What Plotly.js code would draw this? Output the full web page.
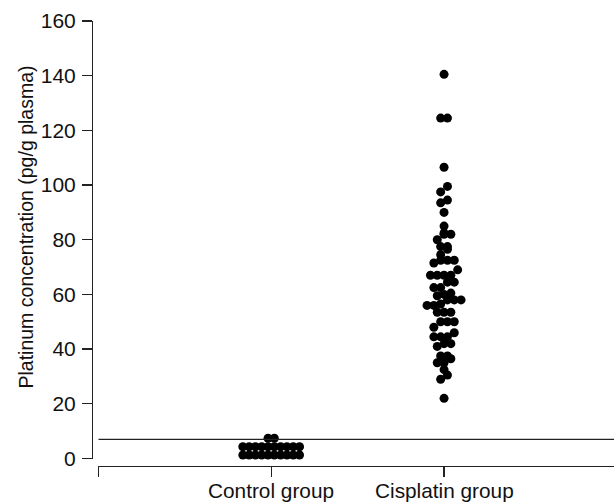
<!DOCTYPE html>
<html>
<head>
<meta charset="utf-8">
<script src="https://cdn.plot.ly/plotly-3.0.1.min.js"></script>
<style>html,body{margin:0;padding:0;background:#fff;}#chart{width:614px;height:502px;}</style>
</head>
<body>
<div id="chart"></div>
<script>
// ---- data ----
const categories = ['Control group', 'Cisplatin group'];
const controlValues = [
  1.3, 1.3, 1.3, 1.3, 1.3, 1.3, 1.3, 1.3, 1.3, 1.3,
  4.3, 4.3, 4.3, 4.3, 4.3, 4.3, 4.3, 4.3, 4.3, 4.3,
  7.4, 7.4
];
const cisplatinValues = [
  140.5, 124.5, 124.5, 106.5, 99.5, 97.5, 94.5, 93.5, 90, 85,
  82.5, 82, 82, 80, 77.5, 77.5, 76.5, 74.5, 72.5, 72.5,
  72.5, 71.5, 69, 67, 67, 67, 67, 64.5, 64.5, 62.5,
  62.5, 60.5, 60, 59.5, 58, 58, 58, 56.5, 56, 56,
  53.5, 53.5, 53.5, 50, 50, 50, 48, 46, 44.5, 44.5,
  44.5, 42, 42, 41, 37.5, 37.5, 36.5, 35, 35, 32.5,
  30.5, 29, 22
];
const thresholdValue = 7;
const yTickVals = [0, 20, 40, 60, 80, 100, 120, 140, 160];
const yTickText = ['0', '20', '40', '60', '80', '100', '120', '140', '160'];
const yTitle = 'Platinum concentration (pg/g plasma)';

// ---- layout geometry ----
const W = 614, H = 502;
const M = {l: 92, r: 0, t: 21, b: 36};
const plotW = W - M.l - M.r, plotH = H - M.t - M.b;
const xDom0 = 6.3 / plotW;
const yDom0 = 7.5 / plotH;
const xRange = [0, 2.983];
const yRange = [0, 160];
const xPxPerUnit = plotW * (1 - xDom0) / (xRange[1] - xRange[0]);
const yPxPerUnit = plotH * (1 - yDom0) / (yRange[1] - yRange[0]);

// Dot-plot (scatter dot) layout: values binned into rows, dots in a row spread symmetrically
function dotPlotX(values, center, binPx, stepPx) {
  const idx = values.map((v, i) => i).sort((a, b) => values[a] - values[b]);
  const xs = new Array(values.length);
  const binU = binPx / yPxPerUnit;
  const stepU = stepPx / xPxPerUnit;
  let row = [], start = null;
  const flush = () => {
    const n = row.length;
    row.forEach((i, k) => { xs[i] = center + (k - (n - 1) / 2) * stepU; });
    row = [];
  };
  idx.forEach(i => {
    const v = values[i];
    if (start === null || v - start >= binU) { flush(); start = v; }
    row.push(i);
  });
  flush();
  return xs;
}

const dotSize = 9;
const ctrlX = dotPlotX(controlValues, 1, 6, 6.3);
const cisX = dotPlotX(cisplatinValues, 2, 6, 6.8);

const marker = {color: '#000', size: dotSize, line: {width: 0}};
const traces = [
  {type: 'scatter', mode: 'markers', name: categories[0], x: ctrlX, y: controlValues, marker: marker, cliponaxis: false, hoverinfo: 'y'},
  {type: 'scatter', mode: 'markers', name: categories[1], x: cisX, y: cisplatinValues, marker: marker, cliponaxis: false, hoverinfo: 'y'}
];

const fontFam = '"Liberation Sans", Arial, sans-serif';
const axColor = '#222';
const textColor = '#111';

// category labels as annotations (placed closer to the axis than Plotly's tick labels)
const catAnnotations = categories.map((c, i) => ({
  text: c, xref: 'x', yref: 'paper', x: i + 1, y: (H - M.b - 490.5) / plotH,
  xanchor: 'center', yanchor: 'middle', showarrow: false,
  font: {family: fontFam, size: 20.8, color: textColor}
}));

const layout = {
  width: W, height: H,
  margin: M,
  paper_bgcolor: '#fff', plot_bgcolor: '#fff',
  showlegend: false,
  font: {family: fontFam, color: textColor, size: 20},
  xaxis: {
    domain: [xDom0, 1], range: xRange, anchor: 'free', position: 0,
    tickvals: [0, 1, 2], ticktext: ['', '', ''],
    ticks: 'outside', ticklen: 10, tickwidth: 1.3, tickcolor: axColor,
    showline: true, linecolor: axColor, linewidth: 1.3,
    showgrid: false, zeroline: false,
    tickfont: {family: fontFam, size: 20, color: textColor}
  },
  yaxis: {
    domain: [yDom0, 1], range: yRange, anchor: 'free', position: 0,
    tickvals: yTickVals, ticktext: yTickText,
    ticks: 'outside', ticklen: 10, tickwidth: 1.3, tickcolor: axColor,
    ticklabelstandoff: 2,
    showline: true, linecolor: axColor, linewidth: 1.3,
    showgrid: false, zeroline: false,
    tickfont: {family: fontFam, size: 21, color: textColor}
  },
  shapes: [{
    type: 'line', xref: 'x', yref: 'y',
    x0: xRange[0], x1: xRange[1], y0: thresholdValue, y1: thresholdValue,
    line: {color: axColor, width: 1.3}
  }],
  annotations: [{
    text: yTitle, xref: 'paper', yref: 'paper',
    x: (25 - M.l) / plotW, y: (H - M.b - 227.5) / plotH,
    xanchor: 'center', yanchor: 'middle', textangle: -90, showarrow: false,
    font: {family: fontFam, size: 19.5, color: textColor}
  }].concat(catAnnotations)
};

Plotly.newPlot('chart', traces, layout, {displayModeBar: false, staticPlot: true});
</script>
</body>
</html>
